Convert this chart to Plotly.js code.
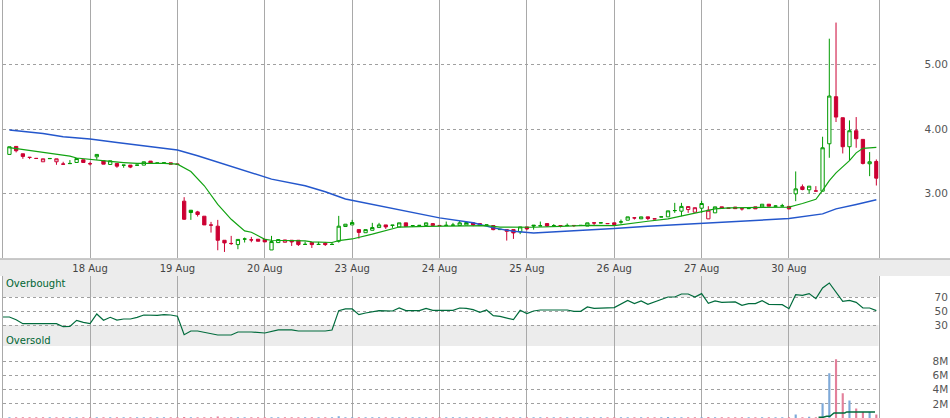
<!DOCTYPE html>
<html><head><meta charset="utf-8">
<script src="https://cdn.plot.ly/plotly-3.0.1.min.js"></script>
<style>html,body{margin:0;padding:0;background:#fff;}#chart{width:950px;height:418px;}</style>
</head><body><div id="chart"></div>
<script>
// ---- data ----
const dayLabels = ["18 Aug","19 Aug","20 Aug","23 Aug","24 Aug","25 Aug","26 Aug","27 Aug","30 Aug"];
const barsPerDay = 13;

const openP = [
3.606,3.730,3.616,3.562,3.545,3.492,3.540,3.492,3.457,3.463,3.481,3.523,3.463,
3.569,3.507,3.450,3.466,3.438,3.440,3.438,3.440,3.502,3.470,3.472,3.476,3.457,
2.881,2.741,2.715,2.648,2.512,2.493,2.275,2.226,2.208,2.293,2.282,2.291,2.290,
2.125,2.239,2.244,2.275,2.275,2.210,2.239,2.209,2.229,2.209,2.260,2.488,2.513,
2.440,2.392,2.430,2.472,2.513,2.505,2.482,2.545,2.500,2.503,2.503,2.503,2.505,
2.504,2.507,2.503,2.513,2.545,2.534,2.510,2.503,2.440,2.440,2.440,2.405,2.482,
2.510,2.497,2.534,2.501,2.503,2.502,2.505,2.503,2.495,2.545,2.543,2.535,2.545,
2.557,2.586,2.623,2.607,2.638,2.608,2.636,2.638,2.734,2.726,2.751,2.710,2.772,
2.607,2.700,2.793,2.775,2.790,2.765,2.765,2.793,2.793,2.834,2.803,2.806,2.800,
2.995,3.104,3.057,3.040,3.036,3.771,4.501,4.175,3.725,3.973,3.839,3.461,3.497];
const highP = [
3.725,3.730,3.616,3.565,3.546,3.538,3.543,3.538,3.492,3.518,3.543,3.523,3.492,
3.606,3.507,3.507,3.466,3.440,3.440,3.440,3.492,3.502,3.473,3.476,3.476,3.457,
2.943,2.741,2.731,2.648,2.560,2.591,2.275,2.343,2.288,2.317,2.327,2.291,2.290,
2.343,2.286,2.280,2.275,2.275,2.255,2.239,2.249,2.249,2.249,2.653,2.524,2.591,
2.440,2.440,2.545,2.545,2.513,2.510,2.545,2.545,2.503,2.506,2.545,2.534,2.505,
2.565,2.545,2.575,2.560,2.555,2.534,2.513,2.503,2.445,2.440,2.440,2.482,2.482,
2.510,2.565,2.534,2.525,2.503,2.535,2.505,2.506,2.545,2.545,2.546,2.535,2.545,
2.596,2.638,2.623,2.638,2.638,2.608,2.638,2.731,2.855,2.855,2.797,2.780,2.886,
2.803,2.793,2.793,2.775,2.790,2.765,2.768,2.793,2.834,2.834,2.815,2.840,2.800,
3.342,3.140,3.114,3.114,3.880,5.400,5.650,4.175,4.134,4.185,3.839,3.642,3.528];
const lowP = [
3.606,3.637,3.538,3.533,3.540,3.492,3.540,3.445,3.445,3.463,3.481,3.481,3.435,
3.523,3.455,3.450,3.399,3.399,3.393,3.438,3.440,3.471,3.470,3.472,3.455,3.452,
2.591,2.591,2.643,2.513,2.394,2.120,2.094,2.203,2.136,2.240,2.244,2.260,2.250,
2.125,2.239,2.244,2.187,2.187,2.210,2.156,2.209,2.187,2.209,2.239,2.488,2.513,
2.300,2.392,2.430,2.472,2.451,2.467,2.482,2.490,2.480,2.503,2.503,2.503,2.503,
2.504,2.507,2.503,2.513,2.493,2.503,2.510,2.430,2.440,2.270,2.296,2.370,2.430,
2.440,2.497,2.480,2.501,2.475,2.502,2.480,2.503,2.495,2.508,2.543,2.533,2.519,
2.530,2.586,2.596,2.607,2.586,2.606,2.636,2.638,2.700,2.648,2.700,2.710,2.700,
2.607,2.700,2.772,2.770,2.765,2.735,2.765,2.762,2.793,2.803,2.803,2.806,2.755,
2.881,3.050,3.000,3.038,3.036,3.554,4.108,3.621,3.512,3.709,3.450,3.269,3.124];
const closeP = [
3.725,3.663,3.575,3.559,3.543,3.538,3.543,3.538,3.455,3.466,3.543,3.481,3.461,
3.606,3.455,3.507,3.424,3.440,3.409,3.440,3.492,3.471,3.473,3.476,3.455,3.452,
2.601,2.705,2.674,2.513,2.510,2.275,2.234,2.224,2.288,2.295,2.280,2.260,2.250,
2.255,2.286,2.280,2.249,2.208,2.212,2.208,2.211,2.208,2.211,2.493,2.524,2.550,
2.397,2.440,2.472,2.513,2.482,2.510,2.545,2.490,2.503,2.506,2.545,2.534,2.503,
2.507,2.510,2.545,2.550,2.513,2.503,2.513,2.440,2.445,2.415,2.389,2.482,2.451,
2.497,2.500,2.496,2.503,2.500,2.505,2.503,2.506,2.545,2.543,2.546,2.533,2.519,
2.560,2.638,2.621,2.638,2.612,2.606,2.638,2.731,2.736,2.800,2.797,2.780,2.845,
2.741,2.793,2.772,2.770,2.765,2.763,2.768,2.762,2.834,2.803,2.806,2.808,2.762,
3.072,3.062,3.114,3.038,3.709,4.511,4.185,3.725,3.973,3.849,3.466,3.492,3.238];

// volume in millions
const volumeM = [
0.12,0.10,0.12,0.10,0.09,0.11,0.09,0.12,0.10,0.09,0.11,0.09,0.10,
0.12,0.10,0.09,0.12,0.09,0.11,0.09,0.10,0.09,0.09,0.10,0.09,0.11,
0.14,0.12,0.10,0.12,0.10,0.20,0.12,0.10,0.12,0.09,0.10,0.10,0.12,
0.12,0.10,0.09,0.10,0.10,0.09,0.10,0.09,0.09,0.09,0.24,0.12,0.12,
0.12,0.10,0.10,0.09,0.10,0.09,0.10,0.12,0.09,0.09,0.10,0.09,0.10,
0.09,0.09,0.10,0.09,0.10,0.10,0.09,0.12,0.09,0.12,0.12,0.12,0.10,
0.09,0.09,0.10,0.09,0.09,0.09,0.09,0.09,0.10,0.09,0.09,0.09,0.10,
0.10,0.12,0.09,0.10,0.10,0.09,0.09,0.14,0.12,0.12,0.12,0.12,0.12,
0.14,0.12,0.10,0.09,0.10,0.09,0.09,0.10,0.12,0.10,0.09,0.09,0.12,
0.48,0.12,0.19,0.10,2.10,6.33,8.33,3.52,2.48,1.33,0.86,0.86,0.48];

// short (green) and long (blue) moving averages, read at bar positions
const maShortBar = [1,3,6,7,9,10,11,13,15,16,18,20,24,26,28,30,32,34,36,37,38,39,40,45,46,49,50,52,55,59,63,68,72,74,77,79,83,87,91,93,96,99,101,104,106,108,113,117,119,121,122,123,124,126,127,128,130];
const maShortVal = [3.71,3.68,3.64,3.62,3.60,3.58,3.55,3.525,3.505,3.497,3.48,3.467,3.466,3.455,3.34,3.12,2.83,2.60,2.42,2.40,2.345,2.29,2.275,2.265,2.25,2.24,2.27,2.295,2.37,2.48,2.49,2.503,2.503,2.48,2.472,2.477,2.49,2.505,2.503,2.534,2.57,2.607,2.648,2.715,2.762,2.777,2.783,2.79,2.845,2.91,3.05,3.20,3.32,3.51,3.63,3.70,3.714];
const maLongBar = [1,4,6,9,13,17,22,26,29,33,35,40,45,48,51,55,59,65,70,73,76,79,83,87,91,96,101,106,111,117,122,124,127,130];
const maLongVal = [3.983,3.947,3.932,3.88,3.844,3.792,3.725,3.673,3.585,3.455,3.378,3.223,3.119,3.026,2.915,2.834,2.752,2.622,2.545,2.467,2.415,2.389,2.41,2.43,2.457,2.493,2.519,2.555,2.58,2.612,2.684,2.762,2.829,2.902];

// RSI
const rsiBar = [0,1,2,3,8,9,10,11,12,13,14,15,16,17,18,19,20,21,23,24,25,26,27,28,29,30,32,34,35,37,39,41,43,44,48,49,50,51,52,53,54,56,58,59,60,62,63,64,67,68,69,70,71,72,73,74,76,77,78,79,80,84,85,86,87,88,91,93,94,95,96,99,100,101,102,103,104,105,106,107,109,110,111,112,113,114,116,117,118,119,120,121,122,123,124,125,126,127,128,129,130];
const rsiVal = [41.4,41.4,37.6,31.9,31.9,27.6,28.1,36.7,33.8,31.9,45.7,36.7,41,37.1,38.6,38.6,41,44.3,43.8,44.8,44.3,42.5,16.2,21.4,21.4,19.5,15.7,15.7,20,20,18.6,22.9,22.9,21.4,21.4,22.9,50.5,52.9,52.9,44.8,47.1,50.5,50,54.3,50.5,50.5,53.8,51,51,54.3,53.8,51.9,48.1,51.4,43.3,42.4,37.6,51,46.2,50,51.4,51.4,49.5,49.5,55.7,53.8,54.8,65.2,60.5,64.3,59.5,70,70,74.3,74.3,70,74.8,61,64.3,62.4,62.9,58.1,60.5,60.5,64.8,59.5,59,53.3,73.3,72.4,74.8,67.6,82.9,90,77,63.8,65.2,62.4,54.3,54.3,50.5];

// volume moving average (millions)
const volMaBar = [121.4,122.1,122.6,123.1,123.7,125.3,125.6,129.8];
const volMaVal = [0.1,0.1,0.24,0.24,0.71,0.71,0.86,0.86];

// ---- styles ----
const GREEN = '#009a00', RED = '#cc0033';
const MA_GREEN = '#12a312', MA_BLUE = '#2457cc';
const RSI_COL = '#006b3c';
const VOL_UP = '#7ea9d8', VOL_DN = '#e3809b';

const bars = openP.map((_, i) => i + 1);
const groups = {};
const styleOf = {gh:[GREEN,true], rh:[RED,true], gf:[GREEN,false], rf:[RED,false]};
Object.keys(styleOf).forEach(k => groups[k] = {x:[],o:[],h:[],l:[],c:[]});
const volColors = [];
for (let i = 0; i < openP.length; i++) {
  const up = i === 0 ? true : closeP[i] >= closeP[i-1];
  const hollow = closeP[i] > openP[i];
  const key = (up ? 'g' : 'r') + (hollow ? 'h' : 'f');
  const g = groups[key];
  g.x.push(bars[i]); g.o.push(openP[i]); g.h.push(highP[i]); g.l.push(lowP[i]); g.c.push(closeP[i]);
  volColors.push(up ? VOL_UP : VOL_DN);
}

const traces = [];
Object.keys(styleOf).forEach(k => {
  const [col, hollow] = styleOf[k];
  const g = groups[k];
  if (!g.x.length) return;
  const st = {line:{color:col, width:1}, fillcolor: hollow ? '#ffffff' : col};
  traces.push({type:'candlestick', x:g.x, open:g.o, high:g.h, low:g.l, close:g.c,
    xaxis:'x', yaxis:'y', increasing:st, decreasing:st, whiskerwidth:0,
    hoverinfo:'skip', showlegend:false});
});
traces.push({type:'scatter', mode:'lines', x:maLongBar, y:maLongVal, xaxis:'x', yaxis:'y',
  line:{color:MA_BLUE, width:1.5}, hoverinfo:'skip'});
traces.push({type:'scatter', mode:'lines', x:maShortBar, y:maShortVal, xaxis:'x', yaxis:'y',
  line:{color:MA_GREEN, width:1.2}, hoverinfo:'skip'});
traces.push({type:'scatter', mode:'lines', x:rsiBar, y:rsiVal, xaxis:'x2', yaxis:'y2',
  line:{color:RSI_COL, width:1.2}, hoverinfo:'skip'});
traces.push({type:'bar', x:bars, y:volumeM, xaxis:'x3', yaxis:'y3', width:0.32,
  marker:{color:volColors, line:{width:0}}, hoverinfo:'skip'});
traces.push({type:'scatter', mode:'lines', x:volMaBar, y:volMaVal, xaxis:'x3', yaxis:'y3',
  line:{color:RSI_COL, width:1.4}, hoverinfo:'skip'});

// ---- layout ----
const H = 418;
const py = p => 1 - p / H;
const X0 = 2.7 / 950, X1 = 878.5 / 950;
const xr = [0, 130.32];
const dayTicks = dayLabels.map((_, i) => (i + 1) * barsPerDay);
const FONT = 'DejaVu Sans, Verdana, sans-serif';
const GRIDV = '#a9a9a9';

const xBase = {range:xr, tickmode:'array', tickvals:dayTicks, showgrid:true, gridcolor:GRIDV,
  gridwidth:1, zeroline:false, showline:false, ticks:'', fixedrange:true};
const yBase = {side:'right', showgrid:true, griddash:'dot', gridcolor:'#a0a0a0', gridwidth:1,
  zeroline:false, showline:true, mirror:true, linecolor:GRIDV, linewidth:1, ticks:'',
  tickfont:{family:FONT, size:10.5, color:'#555'}, fixedrange:true};

const layout = {
  width:950, height:418, margin:{l:0, r:0, t:0, b:0},
  paper_bgcolor:'#ffffff', plot_bgcolor:'rgba(0,0,0,0)', showlegend:false,
  font:{family:FONT, size:10, color:'#555'}, boxgap:0.3,
  xaxis: Object.assign({}, xBase, {domain:[X0,X1], anchor:'y', ticktext:dayLabels,
    showticklabels:true, ticklabelstandoff:3,
    tickfont:{family:FONT, size:10, color:'#444'}, rangeslider:{visible:false}}),
  yaxis: Object.assign({}, yBase, {domain:[py(258),1], range:[2,6], anchor:'x',
    tickvals:[3,4,5], ticktext:['3.00','4.00','5.00'], ticklabelstandoff:43}),
  xaxis2: Object.assign({}, xBase, {domain:[X0,X1], anchor:'y2', showticklabels:false}),
  yaxis2: Object.assign({}, yBase, {domain:[py(346),py(276)], range:[0,100], anchor:'x2',
    tickvals:[30,50,70], ticktext:['30','50','70'], ticklabelstandoff:53}),
  xaxis3: Object.assign({}, xBase, {domain:[X0,X1], anchor:'y3', showticklabels:false}),
  yaxis3: Object.assign({}, yBase, {domain:[0,py(346)], range:[0,10.2], anchor:'x3',
    tickvals:[2,4,6,8], ticktext:['2M','4M','6M','8M'], ticklabelstandoff:51}),
  shapes: [
    {type:'rect', xref:'paper', yref:'paper', x0:0, x1:1, y0:py(276), y1:py(258.5),
     fillcolor:'#ececec', line:{width:0}, layer:'below'},
    {type:'line', xref:'paper', yref:'paper', x0:0, x1:1, y0:py(259), y1:py(259),
     line:{color:'#a0a0a0', width:1.2}},
    {type:'rect', xref:'x2 domain', yref:'y2', x0:0, x1:1, y0:70, y1:100,
     fillcolor:'#ececec', line:{width:0}, layer:'below'},
    {type:'rect', xref:'x2 domain', yref:'y2', x0:0, x1:1, y0:0, y1:30,
     fillcolor:'#ececec', line:{width:0}, layer:'below'}
  ],
  annotations: [
    {text:'Overbought', xref:'paper', yref:'paper', x:4/950, y:py(283), xanchor:'left', yanchor:'middle',
     showarrow:false, font:{family:FONT, size:10, color:'#006633'}},
    {text:'Oversold', xref:'paper', yref:'paper', x:4/950, y:py(340.5), xanchor:'left', yanchor:'middle',
     showarrow:false, font:{family:FONT, size:10, color:'#006633'}}
  ]
};

Plotly.newPlot('chart', traces, layout, {staticPlot:true, displayModeBar:false});
</script>
</body></html>
